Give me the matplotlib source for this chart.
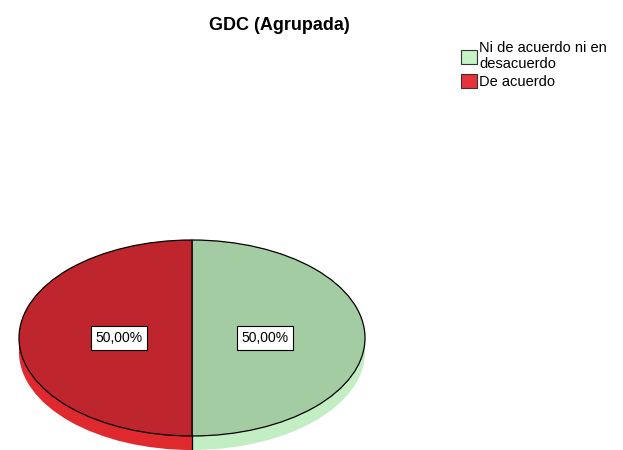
import matplotlib
matplotlib.use("Agg")
import matplotlib.pyplot as plt
from matplotlib.patches import Patch, Rectangle

# datos
categorias = ["Ni de acuerdo ni en\ndesacuerdo", "De acuerdo"]
porcentajes = [50.0, 50.0]
titulo = "GDC (Agrupada)"

# colores: cara superior, lateral y leyenda
col_top = ["#A3CCA3", "#BE252D"]
col_side = ["#C3EEC3", "#E0292E"]
col_leg = ["#C6F2C6", "#E8323A"]

plt.rcParams["font.family"] = ["Liberation Sans", "DejaVu Sans"]

fig = plt.figure(figsize=(6.23, 4.5), dpi=100)
W, H = 623, 450

# caja de la elipse superior en pixeles
x0, x1 = 19, 365
y_top, y_bot = 240, 436
prof = 14  # grosor del "3D"
ry = (y_bot - y_top) / 2
d = prof / ry

ax = fig.add_axes([x0 / W, (H - y_bot) / H, (x1 - x0) / W, (y_bot - y_top) / H])

# pie inferior (lateral)
w_side, _ = ax.pie(porcentajes, colors=col_side, startangle=90, counterclock=False,
                   center=(0, -d), wedgeprops=dict(linewidth=0, clip_on=False))
# relleno entre las dos elipses
ax.add_patch(Rectangle((0, -d), 1, d, facecolor=col_side[0], lw=0, clip_on=False))
ax.add_patch(Rectangle((-1, -d), 1, d, facecolor=col_side[1], lw=0, clip_on=False))
ax.plot([0, 0], [-1, -1 - d], color="black", lw=0.9, clip_on=False)

# pie superior
w_top, _, autot = ax.pie(porcentajes, colors=col_top, startangle=90, counterclock=False,
                         autopct=lambda p: f"{p:.2f}%".replace(".", ","), pctdistance=0.42,
                         wedgeprops=dict(linewidth=0.9, edgecolor="black", clip_on=False),
                         textprops=dict(fontsize=10, color="black"))
for t in autot:
    t.set_bbox(dict(facecolor="white", edgecolor="black", linewidth=0.8, pad=3.3))

ax.set_aspect("auto")
ax.set_xlim(-1, 1)
ax.set_ylim(-1, 1)
ax.axis("off")

fig.text(279 / W, 1 - 25 / H, titulo, ha="center", va="center", fontsize=13, fontweight="bold")

handles = [Patch(facecolor=c, edgecolor="#333333", linewidth=0.8) for c in col_leg]
fig.legend(handles, categorias, loc="upper left", bbox_to_anchor=(461 / W, 1 - 41 / H),
           frameon=False, fontsize=10.5, handlelength=1.1, handleheight=1.1,
           handletextpad=0.15, labelspacing=0.2, borderaxespad=0, borderpad=0)

fig.savefig("out.png", dpi=100)
